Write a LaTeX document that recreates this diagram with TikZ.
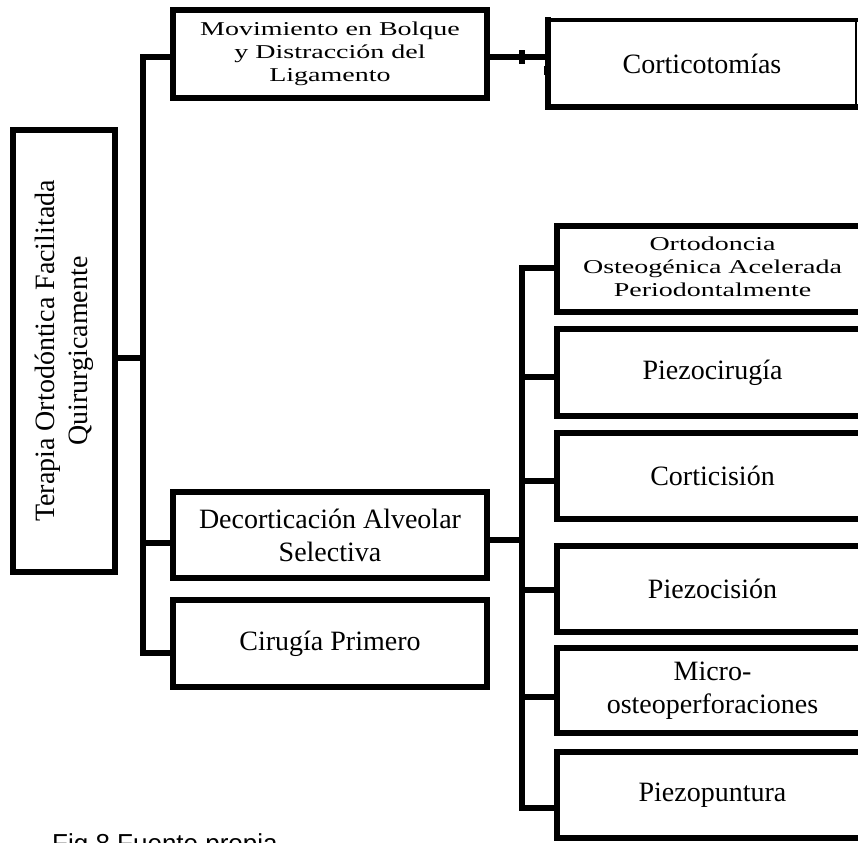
\documentclass[tikz,border=0pt]{standalone}
\usepackage{fontspec}
\usepackage{graphicx}
\setmainfont{Liberation Serif}
\newfontfamily\capfont{Liberation Sans}
\newcommand\squashtext[1]{\scalebox{1}[0.7]{\begin{tabular}{@{}c@{}}#1\end{tabular}}}
\begin{document}
\begin{tikzpicture}[x=1pt,y=-1pt,
  txt/.style={font=\fontsize{28}{33}\selectfont},
  box/.style={draw, line width=6pt, inner sep=0pt, align=center, txt},
  rbox/.style={box, minimum width=311},
  link/.style={line width=5.5pt}]
\useasboundingbox (0,0) rectangle (858,842);
\clip (0,0) rectangle (858,842);

% left root box
\node[box, rotate=90, minimum width=442, minimum height=102] (root) at (64,351)
  {Terapia Ortodóntica Facilitada\\Quirurgicamente};

% middle column
\node[box, minimum width=314, minimum height=88] (mov) at (330,54)
  {\squashtext{Movimiento en Bolque\\y Distracción del\\Ligamento}};
\node[box, minimum width=314, minimum height=86] (dec) at (330,535)
  {Decorticación Alveolar\\Selectiva};
\node[box, minimum width=314, minimum height=87] (cir) at (330,643.5)
  {Cirugía Primero};

% Corticotomias
\node[txt, inner sep=0pt, minimum width=308, minimum height=87] (cort) at (702,63.5) {Corticotomías};
\draw[line width=3.5pt, line cap=rect] (cort.north west) -- (cort.north east);
\draw[line width=2pt] (cort.north east) -- (cort.south east);
\draw[line width=6pt, line cap=rect] (cort.north west) -- (cort.south west) -- (cort.south east);

% right column
\node[rbox, minimum height=86] (opo) at (712.5,269)
  {\squashtext{Ortodoncia\\Osteogénica Acelerada\\Periodontalmente}};
\node[rbox, minimum height=87] (pcir) at (712.5,372.5) {Piezocirugía};
\node[rbox, minimum height=86] (ccis) at (712.5,476) {Corticisión};
\node[rbox, minimum height=86] (pcis) at (712.5,589) {Piezocisión};
\node[rbox, minimum height=85] (micro) at (712.5,690.5) {Micro-\\osteoperforaciones};
\node[rbox, minimum height=86] (ppun) at (712.5,795) {Piezopuntura};

% main trunk
\coordinate (mt) at (143,57);
\coordinate (mb) at (143,653);
\coordinate (jr) at (143,358);
\coordinate (jd) at (143,543);
\draw[link] (mt -| mov.west) -- (mt) -- (mb) -- (mb -| cir.west);
\draw[link] (jr -| root.south) -- (jr);
\draw[link] (jd) -- (jd -| dec.west);

% Movimiento -> Corticotomias
\draw[link] (mt -| mov.east) -- (mt -| cort.west);
\node[fill, inner sep=0pt, minimum width=6, minimum height=14] (tick) at (522,57) {};
\node[fill, inner sep=0pt, minimum width=4, minimum height=9] (bump) at (546,71) {};

% right trunk
\coordinate (rt) at (522,268);
\coordinate (rb) at (522,808);
\coordinate (jdec) at (522,540);
\coordinate (s2) at (522,377);
\coordinate (s3) at (522,481);
\coordinate (s4) at (522,590);
\coordinate (s5) at (522,697);
\draw[link] (rt -| opo.west) -- (rt) -- (rb) -- (rb -| ppun.west);
\draw[link] (jdec -| dec.east) -- (jdec);
\draw[link] (s2) -- (s2 -| pcir.west);
\draw[link] (s3) -- (s3 -| ccis.west);
\draw[link] (s4) -- (s4 -| pcis.west);
\draw[link] (s5) -- (s5 -| micro.west);

% caption
\node[font=\capfont\fontsize{26}{30}\selectfont, anchor=base west, inner sep=0pt] (cap) at (52,852) {Fig.8 Fuente propia};
\end{tikzpicture}
\end{document}
